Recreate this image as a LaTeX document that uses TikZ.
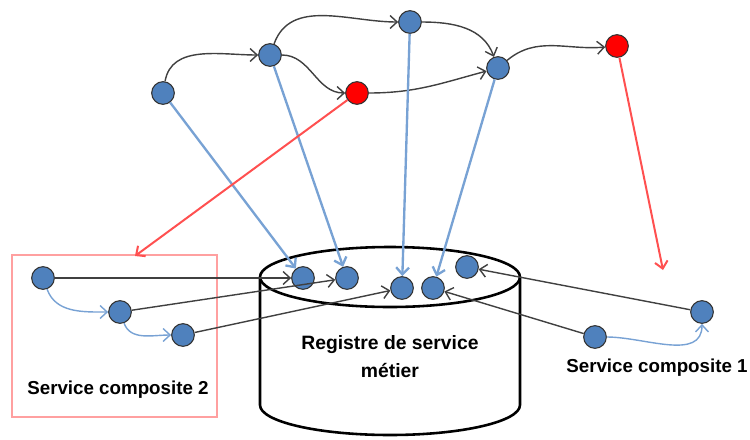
\documentclass[tikz,border=0pt]{standalone}
\usepackage{fontspec}
\setmainfont{Liberation Sans}
\usepackage{tikz}
\usetikzlibrary{arrows, arrows.meta}
\definecolor{nodeblue}{RGB}{79,129,189}
\definecolor{lineblue}{RGB}{120,162,212}
\definecolor{linered}{RGB}{255,80,80}
\definecolor{boxpink}{RGB}{255,160,160}
\tikzstyle{service}=[circle, draw=black!80, fill=nodeblue, line width=0.9pt, inner sep=0pt, minimum size=0.68cm]
\tikzstyle{failed}=[service, fill=red]
\newcommand{\service}{\node[service]}
\newcommand{\failed}{\node[failed]}

\begin{document}
\begin{tikzpicture}[x=0.03cm, y=-0.03cm,
            >={Straight Barb[length=6pt, width=11pt]},
            every edge/.style={draw=black!75, ->, line width=1.2pt},
            blueedge/.style={draw=lineblue, line width=2pt},
            bluecurve/.style={draw=lineblue, line width=1.2pt},
            rededge/.style={draw=linered, line width=1.7pt},
            label/.style={font=\bfseries\fontsize{16}{19}\selectfont}
        ]
            \useasboundingbox (0,0) rectangle (750,439);
            % registre
            \draw[line width=2.2pt] (390,277) ellipse [x radius=130, y radius=30];
            \draw[line width=2.2pt] (260,277) -- (260,405)
                arc[start angle=180, end angle=0, x radius=130, y radius=30] -- (520,277);
            \node[label, font=\bfseries\fontsize{16.5}{24}\selectfont, align=center] (reg) at (390,357) {Registre de service\\métier};
            % service composite 2
            \draw[boxpink, line width=1.6pt] (12,255) rectangle (217,417);
            \coordinate (box) at (135,256);
            \coordinate (drop) at (663,270);

            \service (t1) at (163,93) {};
            \service (t2) at (270,55) {};
            \service (t3) at (410,22) {};
            \failed (t4) at (357,93) {};
            \service (t5) at (498,68) {};
            \failed (t6) at (617,46) {};

            \service (r1) at (303,278) {};
            \service (r2) at (347,278) {};
            \service (r3) at (402,288) {};
            \service (r4) at (433,288) {};
            \service (r5) at (467,267) {};

            \service (a1) at (595,337) {};
            \service (a2) at (702,312) {};
            \node[label] (alabel) at (657,368) {Service composite 1};

            \service (b1) at (43,278) {};
            \service (b2) at (120,312) {};
            \service (b3) at (183,335) {};
            \node[label] (blabel) at (118,390) {Service composite 2};
        \path
                (t1) edge[out=80, in=180] (t2)
                (t2) edge[out=70, in=180] (t3)
                (t2) edge[out=0, in=180] (t4)
                (t3) edge[out=0, in=110] (t5)
                (t4) edge[out=0, in=195] (t5)
                (t5) edge[out=40, in=185] (t6)
                (t1) edge[blueedge] (r1)
                (t2) edge[blueedge] (r2)
                (t3) edge[blueedge] (r3)
                (t5) edge[blueedge] (r4)
                (t4) edge[rededge] (box)
                (t6) edge[rededge] (drop)
                (b1) edge (r1)
                (b2) edge (r2)
                (b3) edge (r3)
                (a2) edge (r5)
                (a1) edge (r4)
                (b1) edge[bluecurve, out=-70, in=180] (b2)
                (b2) edge[bluecurve, out=-70, in=180] (b3)
                (a1) edge[bluecurve, out=0, in=-90] (a2)
            ;
        \end{tikzpicture}
\end{document}
